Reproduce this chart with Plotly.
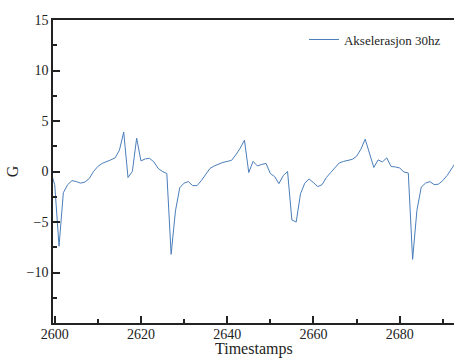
import plotly.graph_objects as go

# Accelerometer samples (G) per timestamp
timestamps = list(range(2599, 2694))
accel_g = [
    0.1, -1.3, -7.4, -2.1, -1.3, -0.9, -1.0, -1.15, -1.05, -0.7,
    0.0, 0.5, 0.8, 0.95, 1.15, 1.35, 2.1, 3.9, -0.6, 0.0,
    3.3, 1.05, 1.25, 1.3, 0.95, 0.3, 0.0, -0.2, -8.2, -3.9,
    -1.6, -1.15, -1.0, -1.4, -1.4, -0.9, -0.35, 0.3, 0.55, 0.75,
    0.9, 1.0, 1.1, 1.65, 2.3, 3.1, -0.1, 1.0, 0.55, 0.7,
    0.8, -0.2, -0.5, -1.2, -0.4, 0.0, -4.8, -5.0, -2.2, -1.15,
    -0.75, -1.1, -1.5, -1.3, -0.6, -0.1, 0.4, 0.85, 1.0, 1.1,
    1.2, 1.5, 2.2, 3.2, 1.8, 0.4, 1.15, 0.95, 1.35, 0.5,
    0.45, 0.35, -0.05, -0.15, -8.7, -3.85, -1.55, -1.15, -1.0, -1.3,
    -1.25, -0.9, -0.4, 0.3, 0.9,
]
series_name = "Akselerasjon 30hz"
x_ticks = [2600, 2620, 2640, 2660, 2680]
y_ticks = [-10, -5, 0, 5, 10, 15]

FONT = "Liberation Serif, Times New Roman, serif"

fig = go.Figure()
fig.add_trace(go.Scatter(
    x=timestamps, y=accel_g, mode="lines", name=series_name,
    line=dict(color="#4a7ebb", width=1),
))

axis_common = dict(
    showline=True, linecolor="#222", linewidth=1.5,
    ticks="inside", ticklen=7, tickwidth=1.5, tickcolor="#222",
    showgrid=False, zeroline=False,
    tickfont=dict(family=FONT, size=14, color="#222"),
)

fig.update_xaxes(
    **axis_common,
    range=[2599.6, 2692.6], tickvals=x_ticks, mirror=True,
    ticklabelstandoff=-3,
    minor=dict(ticks="inside", ticklen=4, tickwidth=1.5, tickcolor="#222", dtick=10, tick0=2600),
)
fig.update_yaxes(
    **axis_common,
    range=[-15, 15], tickvals=y_ticks,
    minor=dict(ticks="inside", ticklen=4, tickwidth=1.5, tickcolor="#222", dtick=2.5, tick0=0),
    title=dict(text="G", font=dict(family=FONT, size=16, color="#222"), standoff=4),
)

# x-axis title sits just under the tick labels, against the page bottom
fig.add_annotation(
    text="Timestamps", xref="paper", yref="paper", x=0.5, y=-37 / 303,
    xanchor="center", yanchor="bottom", showarrow=False,
    font=dict(family=FONT, size=16, color="#222"),
)

fig.update_layout(
    width=454, height=360,
    margin=dict(l=53, r=0, t=20, b=37),
    plot_bgcolor="white", paper_bgcolor="white",
    showlegend=True,
    legend=dict(
        x=0.98, y=0.985, xanchor="right", yanchor="top",
        bgcolor="rgba(0,0,0,0)", font=dict(family=FONT, size=13, color="#222"),
    ),
    font=dict(family=FONT, color="#222"),
)

fig.write_html("out.html")
